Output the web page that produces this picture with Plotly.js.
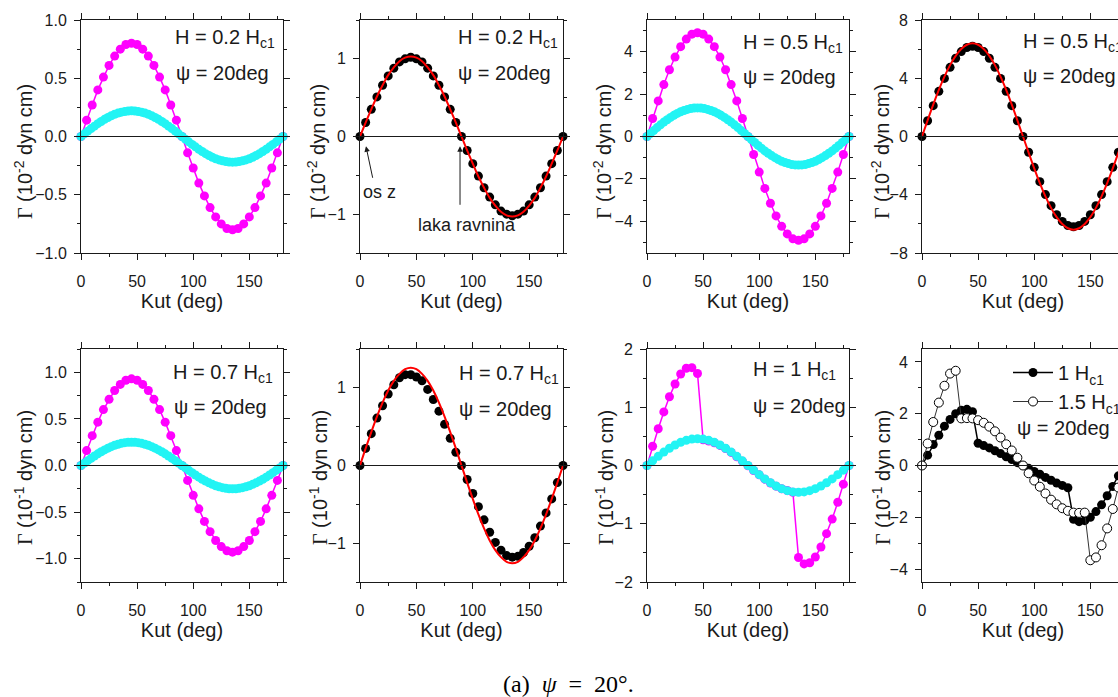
<!DOCTYPE html>
<html><head><meta charset="utf-8">
<script src="https://cdn.plot.ly/plotly-3.0.1.min.js"></script>
<style>html,body{margin:0;padding:0;overflow:hidden;background:#fff}#chart{width:1130px;height:697px}</style>
</head><body><div id="chart"></div>
<script>
// angles (deg)
const ANGLE_5 = [0,5,10,15,20,25,30,35,40,45,50,55,60,65,70,75,80,85,90,95,100,105,110,115,120,125,130,135,140,145,150,155,160,165,170,175,180];
const ANGLE_3 = [0,3,6,9,12,15,18,21,24,27,30,33,36,39,42,45,48,51,54,57,60,63,66,69,72,75,78,81,84,87,90,93,96,99,102,105,108,111,114,117,120,123,126,129,132,135,138,141,144,147,150,153,156,159,162,165,168,171,174,177,180];

// Panel 1: H = 0.2 Hc1 (10^-2 dyn cm)
const P1_MAGENTA = [0,.14,.27,.40,.51,.61,.69,.75,.79,.80,.79,.75,.69,.61,.51,.40,.27,.14,0,-.14,-.27,-.40,-.51,-.61,-.69,-.75,-.79,-.80,-.79,-.75,-.69,-.61,-.51,-.40,-.27,-.14,0];
const P1_CYAN = [0,.023,.046,.068,.089,.110,.129,.147,.163,.178,.191,.201,.209,.215,.219,.220,.219,.215,.209,.201,.191,.178,.163,.147,.129,.110,.089,.068,.046,.023,0,-.023,-.046,-.068,-.089,-.110,-.129,-.147,-.163,-.178,-.191,-.201,-.209,-.215,-.219,-.220,-.219,-.215,-.209,-.201,-.191,-.178,-.163,-.147,-.129,-.110,-.089,-.068,-.046,-.023,0];
// Panel 2: H = 0.2 Hc1
const P2_BLACK = [0,.18,.35,.51,.66,.78,.88,.96,1.00,1.02,1.00,.96,.88,.78,.66,.51,.35,.18,0,-.18,-.35,-.51,-.66,-.78,-.88,-.96,-1.00,-1.02,-1.00,-.96,-.88,-.78,-.66,-.51,-.35,-.18,0];
const P2_FIT = [0,.18,.35,.515,.66,.79,.89,.97,1.015,1.03,1.015,.97,.89,.79,.66,.515,.35,.18,0,-.18,-.35,-.515,-.66,-.79,-.89,-.97,-1.015,-1.03,-1.015,-.97,-.89,-.79,-.66,-.515,-.35,-.18,0];
// Panel 3: H = 0.5 Hc1
const P3_MAGENTA = [0,.85,1.68,2.45,3.15,3.75,4.24,4.60,4.83,4.90,4.83,4.60,4.24,3.75,3.15,2.45,1.68,.85,0,-.85,-1.68,-2.45,-3.15,-3.75,-4.24,-4.60,-4.83,-4.90,-4.83,-4.60,-4.24,-3.75,-3.15,-2.45,-1.68,-.85,0];
const P3_CYAN = [0,.14,.28,.42,.55,.68,.79,.90,1.00,1.09,1.17,1.23,1.28,1.32,1.34,1.35,1.34,1.32,1.28,1.23,1.17,1.09,1.00,.90,.79,.68,.55,.42,.28,.14,0,-.14,-.28,-.42,-.55,-.68,-.79,-.90,-1.00,-1.09,-1.17,-1.23,-1.28,-1.32,-1.34,-1.35,-1.34,-1.32,-1.28,-1.23,-1.17,-1.09,-1.00,-.90,-.79,-.68,-.55,-.42,-.28,-.14,0];
// Panel 4: H = 0.5 Hc1
const P4_BLACK = [0,1.08,2.12,3.10,3.99,4.75,5.37,5.83,6.11,6.20,6.11,5.83,5.37,4.75,3.99,3.10,2.12,1.08,0,-1.08,-2.12,-3.10,-3.99,-4.75,-5.37,-5.83,-6.11,-6.20,-6.11,-5.83,-5.37,-4.75,-3.99,-3.10,-2.12,-1.08,0];
const P4_FIT = [0,1.11,2.19,3.20,4.11,4.90,5.54,6.01,6.30,6.40,6.30,6.01,5.54,4.90,4.11,3.20,2.19,1.11,0,-1.11,-2.19,-3.20,-4.11,-4.90,-5.54,-6.01,-6.30,-6.40,-6.30,-6.01,-5.54,-4.90,-4.11,-3.20,-2.19,-1.11,0];
// Panel 5: H = 0.7 Hc1 (10^-1 dyn cm)
const P5_MAGENTA = [0,.16,.32,.465,.60,.71,.805,.87,.915,.93,.915,.87,.805,.71,.60,.465,.32,.16,0,-.16,-.32,-.465,-.60,-.71,-.805,-.87,-.915,-.93,-.915,-.87,-.805,-.71,-.60,-.465,-.32,-.16,0];
const P5_CYAN = [0,.026,.052,.077,.102,.125,.147,.167,.186,.202,.217,.228,.238,.245,.249,.25,.249,.245,.238,.228,.217,.202,.186,.167,.147,.125,.102,.077,.052,.026,0,-.026,-.052,-.077,-.102,-.125,-.147,-.167,-.186,-.202,-.217,-.228,-.238,-.245,-.249,-.25,-.249,-.245,-.238,-.228,-.217,-.202,-.186,-.167,-.147,-.125,-.102,-.077,-.052,-.026,0];
// Panel 6: H = 0.7 Hc1
const P6_BLACK = [0,.22,.41,.61,.77,.92,1.04,1.13,1.17,1.17,1.14,1.09,.98,.85,.70,.53,.35,.17,0,-.18,-.36,-.53,-.70,-.86,-.99,-1.09,-1.16,-1.18,-1.17,-1.12,-1.04,-.93,-.78,-.61,-.43,-.22,0];
const P6_FIT = [0,.22,.43,.63,.81,.965,1.09,1.18,1.24,1.26,1.24,1.18,1.09,.965,.81,.63,.43,.22,0,-.22,-.43,-.63,-.81,-.965,-1.09,-1.18,-1.24,-1.26,-1.24,-1.18,-1.09,-.965,-.81,-.63,-.43,-.22,0];
// Panel 7: H = 1 Hc1
const P7_MAGENTA = [0,.33,.63,.92,1.18,1.40,1.57,1.67,1.68,1.58,.44,.42,.39,.345,.29,.225,.15,.075,-.005,-.085,-.16,-.235,-.30,-.355,-.40,-.43,-.46,-1.58,-1.69,-1.67,-1.57,-1.40,-1.17,-.92,-.63,-.32,0];
const P7_CYAN = [0,.08,.157,.23,.296,.352,.398,.432,.453,.46,.453,.432,.398,.352,.296,.23,.157,.08,0,-.08,-.157,-.23,-.296,-.352,-.398,-.432,-.453,-.46,-.453,-.432,-.398,-.352,-.296,-.23,-.157,-.08,0];
// Panel 8: 1 Hc1 and 1.5 Hc1
const P8_1HC1 = [0,.40,.81,1.17,1.52,1.78,2.00,2.13,2.17,2.08,.86,.77,.68,.57,.46,.34,.23,.11,0,-.11,-.23,-.34,-.46,-.57,-.68,-.77,-.86,-2.08,-2.17,-2.13,-2.00,-1.78,-1.52,-1.17,-.81,-.40,0];
const P8_15HC1 = [0,.85,1.68,2.43,3.08,3.55,3.66,1.82,1.83,1.82,1.75,1.65,1.50,1.32,1.08,.82,.58,.30,0,-.30,-.58,-.82,-1.08,-1.32,-1.50,-1.65,-1.75,-1.82,-1.83,-1.82,-3.66,-3.55,-3.08,-2.43,-1.68,-.85,0];

const H_LABELS = ['H = 0.2 H<sub>c1</sub>','H = 0.2 H<sub>c1</sub>','H = 0.5 H<sub>c1</sub>','H = 0.5 H<sub>c1</sub>','H = 0.7 H<sub>c1</sub>','H = 0.7 H<sub>c1</sub>','H = 1 H<sub>c1</sub>'];
const PSI_LABEL = 'ψ = 20deg';
const X_TITLE = 'Kut (deg)';
const EXPONENTS = ['-2','-2','-2','-2','-1','-1','-1','-1'];
const LEGEND_NAMES = ['1 H<sub>c1</sub>','1.5 H<sub>c1</sub>'];
const CAPTION = '(a)&nbsp;&nbsp;<i>ψ</i>&nbsp;&nbsp;=&nbsp;&nbsp;20°.';

const W = 1130, H = 697;
const SANS = 'Liberation Sans, Arial, Helvetica, sans-serif';
const SERIF = 'Liberation Serif, Times New Roman, serif';
const INK = '#1a1a1a';
const MAG = '#ff00ff', CYA = '#22f4f4';
const cols = [[81,283],[360,563],[647,849],[922,1124]];
const rows = [[20,253],[349,582]];
const yTitleX = [24,317,603,881,23,318,604,881];
const yTitleY = [152,478];
const px = x => x / W, py = y => 1 - y / H;

const specs = [
  {yr:[-1,1], dt:.5, mn:.25, fmt:'.1f'},
  {yr:[-1.5,1.5], dt:1, mn:.5, fmt:''},
  {yr:[-5.5,5.5], dt:2, mn:1, fmt:''},
  {yr:[-8,8], dt:4, mn:2, fmt:''},
  {yr:[-1.25,1.25], dt:.5, mn:.25, fmt:'.1f'},
  {yr:[-1.5,1.5], dt:1, mn:.5, fmt:''},
  {yr:[-2,2], dt:1, mn:.5, fmt:''},
  {yr:[-4.5,4.5], dt:2, mn:1, fmt:''}
];

const layout = {
  width: W, height: H, margin:{l:0,r:0,t:0,b:0},
  paper_bgcolor:'#fff', plot_bgcolor:'#fff',
  font:{family:SANS, color:INK, size:16},
  showlegend:true,
  legend:{x:px(1008), y:py(353), xanchor:'left', yanchor:'top', bgcolor:'rgba(0,0,0,0)',
          font:{size:20, family:SANS, color:INK}, itemwidth:40, tracegroupgap:0},
  annotations:[], shapes:[]
};

specs.forEach((s, i) => {
  const k = i + 1, sfx = k === 1 ? '' : String(k);
  const c = cols[i % 4], r = rows[Math.floor(i / 4)];
  layout['xaxis' + sfx] = {
    domain:[px(c[0]), px(c[1])], anchor:'y' + sfx, range:[0,180], tick0:0, dtick:50,
    ticks:'outside', ticklen:6, tickwidth:1, tickcolor:INK, ticklabelstandoff:8,
    minor:{dtick:25, ticks:'outside', ticklen:3, tickwidth:1, tickcolor:INK, showgrid:false},
    showline:true, linecolor:INK, linewidth:1, mirror:'ticks', showgrid:false, zeroline:false,
    tickfont:{size:16, family:SANS, color:INK},
    title:{text:X_TITLE, font:{size:20, family:SANS, color:INK}, standoff:3}
  };
  layout['yaxis' + sfx] = {
    domain:[py(r[1]), py(r[0])], anchor:'x' + sfx, range:s.yr, tick0:0, dtick:s.dt, tickformat:s.fmt,
    ticks:'outside', ticklen:6, tickwidth:1, tickcolor:INK, ticklabelstandoff:4,
    minor:{dtick:s.mn, ticks:'outside', ticklen:3, tickwidth:1, tickcolor:INK, showgrid:false},
    showline:true, linecolor:INK, linewidth:1, mirror:'ticks', showgrid:false, zeroline:false,
    tickfont:{size:16, family:SANS, color:INK}
  };
  // y-axis title drawn as rotated text beside the axis
  layout.annotations.push({xref:'paper', yref:'paper', x:px(yTitleX[i]), y:py(yTitleY[Math.floor(i / 4)]),
    xanchor:'center', yanchor:'middle', textangle:-90, showarrow:false,
    text:'<span style="font-family:' + SERIF + '">Γ</span> (10<sup>' + EXPONENTS[i] + '</sup> dyn cm)',
    font:{size:20, family:SANS, color:INK}});
  layout.shapes.push({type:'line', xref:'x' + sfx + ' domain', yref:'y' + sfx, x0:0, x1:1, y0:0, y1:0,
                      line:{color:INK, width:1.2}, layer:'above'});
});

const labelPos = [[173,39,174,73],[456,39,456,73],[741,44,741,77],[1021,42,1021,76],[171,373,172,407],[457,374,457,409],[751,371,751,406]];
labelPos.forEach((p, i) => {
  layout.annotations.push({xref:'paper', yref:'paper', x:px(p[0]), y:py(p[1]), xanchor:'left', yanchor:'middle',
    text:H_LABELS[i], showarrow:false, font:{size:20, family:SANS, color:INK}});
  layout.annotations.push({xref:'paper', yref:'paper', x:px(p[2]), y:py(p[3]), xanchor:'left', yanchor:'middle',
    text:PSI_LABEL, showarrow:false, font:{size:20, family:SANS, color:INK}});
});
layout.annotations.push({xref:'paper', yref:'paper', x:px(1015), y:py(428), xanchor:'left', yanchor:'middle',
  text:PSI_LABEL, showarrow:false, font:{size:20, family:SANS, color:INK}});

// arrows in panel 2
layout.annotations.push({xref:'x2', yref:'y2', x:5.3, y:-0.126, ax:7, ay:33, text:'', showarrow:true,
  arrowhead:2, arrowsize:1.1, arrowwidth:1, arrowcolor:INK});
layout.annotations.push({xref:'x2', yref:'y2', x:17.7, y:-0.72, text:'os z', showarrow:false,
  font:{size:18, family:SANS, color:INK}});
layout.annotations.push({xref:'x2', yref:'y2', x:88.7, y:-0.126, ax:0, ay:60, text:'', showarrow:true,
  arrowhead:2, arrowsize:1.1, arrowwidth:1, arrowcolor:INK});
layout.annotations.push({xref:'x2', yref:'y2', x:94.6, y:-1.14, text:'laka ravnina', showarrow:false,
  font:{size:18, family:SANS, color:INK}});

// caption
layout.annotations.push({xref:'paper', yref:'paper', x:px(568), y:py(684), xanchor:'center', yanchor:'middle',
  text:CAPTION, showarrow:false, font:{size:24, family:SERIF, color:'#000'}});

function ax(k){ return k === 1 ? ['x','y'] : ['x' + k, 'y' + k]; }
function dots(k, x, y, color, extra){
  const a = ax(k);
  return Object.assign({type:'scatter', mode:'lines+markers', x:x, y:y, xaxis:a[0], yaxis:a[1],
    marker:{size:9, color:color}, line:{color:color, width:1.5}, showlegend:false, cliponaxis:false}, extra || {});
}
function fit(k, x, y){
  const a = ax(k);
  return {type:'scatter', mode:'lines', x:x, y:y, xaxis:a[0], yaxis:a[1], line:{color:'#ff0000', width:2, shape:'spline', smoothing:1},
    showlegend:false, cliponaxis:false};
}
function markersOnly(k, x, y){
  const a = ax(k);
  return {type:'scatter', mode:'markers', x:x, y:y, xaxis:a[0], yaxis:a[1], marker:{size:9, color:'#000'},
    showlegend:false, cliponaxis:false};
}

const data = [
  dots(1, ANGLE_5, P1_MAGENTA, MAG), dots(1, ANGLE_3, P1_CYAN, CYA),
  markersOnly(2, ANGLE_5, P2_BLACK), fit(2, ANGLE_5, P2_FIT),
  dots(3, ANGLE_5, P3_MAGENTA, MAG), dots(3, ANGLE_3, P3_CYAN, CYA),
  markersOnly(4, ANGLE_5, P4_BLACK), fit(4, ANGLE_5, P4_FIT),
  dots(5, ANGLE_5, P5_MAGENTA, MAG), dots(5, ANGLE_3, P5_CYAN, CYA),
  markersOnly(6, ANGLE_5, P6_BLACK), fit(6, ANGLE_5, P6_FIT),
  dots(7, ANGLE_5, P7_MAGENTA, MAG), dots(7, ANGLE_5, P7_CYAN, CYA),
  dots(8, ANGLE_5, P8_1HC1, '#000', {name:LEGEND_NAMES[0], showlegend:true}),
  dots(8, ANGLE_5, P8_15HC1, '#000', {name:LEGEND_NAMES[1], showlegend:true,
      marker:{size:9, color:'#fff', line:{color:'#000', width:1}}, line:{color:'#333', width:1}})
];

Plotly.newPlot('chart', data, layout, {displayModeBar:false, staticPlot:true});
</script>
</body></html>
